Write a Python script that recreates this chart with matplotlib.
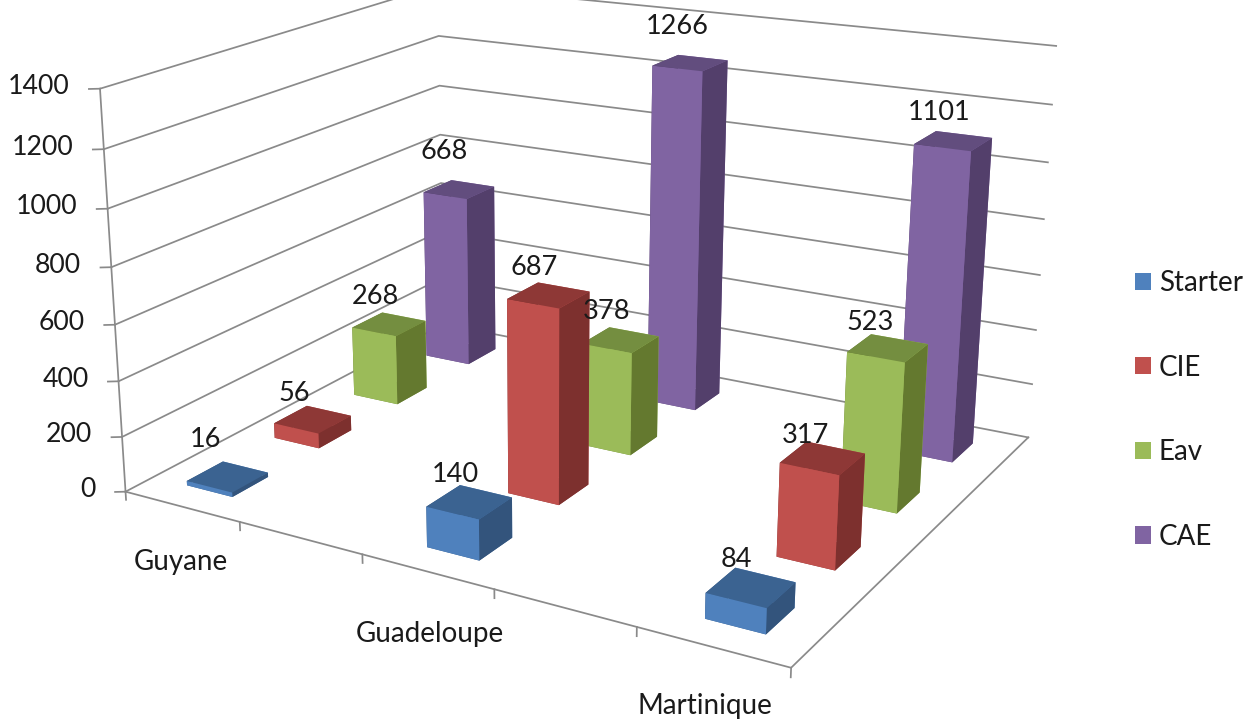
import matplotlib
matplotlib.use("Agg")
import matplotlib.pyplot as plt
from matplotlib.patches import Patch
from mpl_toolkits.mplot3d import proj3d

regions = ["Guyane", "", "Guadeloupe", "", "Martinique"]
series = ["Starter", "CIE", "Eav", "CAE"]
starter = [16, 140, 84]
cie = [56, 687, 317]
eav = [268, 378, 523]
cae = [668, 1266, 1101]
z_ticks = [0, 200, 400, 600, 800, 1000, 1200, 1400]

front = ["#4F81BD", "#C0504D", "#9BBB59", "#8064A2"]
top = ["#3B6391", "#8E3836", "#748E40", "#624D7E"]
side = ["#33547C", "#7D302E", "#64792F", "#533F6B"]
grid_color = "#8A8A8A"
text_color = "#1A1A1A"

plt.rcParams["font.family"] = ["Lato", "DejaVu Sans"]
fig = plt.figure(figsize=(12.47, 7.19), dpi=100)

# square 3d axes, larger than the figure so the camera can aim off-centre
ax = fig.add_axes([-1212.67 / 1247, -1160.47 / 719, 3098.63 / 1247, 3098.63 / 719],
                  projection="3d", computed_zorder=False)
ax.view_init(18.0722, -55.6074, 1.41664)
ax.set_proj_type("persp", focal_length=0.134154)
ax.set_xlim(0.311916 - 8, 0.311916 + 8, view_margin=0)
ax.set_ylim(2.64019 - 8, 2.64019 + 8, view_margin=0)
ax.set_zlim(374.384 - 2200, 374.384 + 2200, view_margin=0)
ax.set_box_aspect((1.0357 * 16, 1.06988 * 16, 0.0021249 * 4400))
ax.set_axis_off()
M = ax.get_proj()

# walls, floor edges and tick marks
line_style = dict(color=grid_color, lw=1.25, zorder=1)
for z in z_ticks:
    ax.plot([0, 0, 5], [0, 4, 4], [z, z, z], **line_style)
    ax.plot([-0.06, 0], [-0.04, 0], [z, z], **line_style)
ax.plot([0, 0], [0, 0], [0, 1400], **line_style)
ax.plot([0, 5, 5], [0, 0, 4], [0, 0, 0], **line_style)
for x in range(len(regions) + 1):
    ax.plot([x, x], [0, 0], [0, -30], **line_style)

values = [starter, cie, eav, cae]
positions = [i for i, name in enumerate(regions) if name]
gap = 0.30

# back to front, each bar its own collection so the paint order is fixed
order = 2
for si in range(len(series) - 1, -1, -1):
    for ci, xpos in enumerate(positions):
        cols = [top[si], top[si], front[si], front[si], side[si], side[si]]
        ax.bar3d(xpos + gap, si + gap, 0, 1 - 2 * gap, 1 - 2 * gap, values[si][ci],
                 color=cols, shade=False, linewidth=0, zorder=order)
        order += 1


def label(x, y, z, text, dx, dy, size, ha="center"):
    xp, yp, _ = proj3d.proj_transform(x, y, z, M)
    ax.annotate(text, (xp, yp), xytext=(dx, dy), textcoords="offset pixels", ha=ha, va="center",
                fontsize=size, color=text_color, annotation_clip=False, zorder=100)


nudges = {16: (-8, 9), 56: (-4, -2), 668: (-1, 10), 1266: (1, 8), 317: (-3, -5), 523: (-4, -2)}
for si in range(len(series)):
    for ci, xpos in enumerate(positions):
        v = values[si][ci]
        nudge_x, nudge_y = nudges.get(v, (0, 0))
        label(xpos + 0.5, si + 0.5, v, str(v), -14 + nudge_x, 28 + nudge_y, 19.5)

for z in z_ticks:
    label(0, 0, z, str(z), -30, 2, 19.2, ha="right")

cat_offsets = {"Guyane": (-1, -55), "Guadeloupe": (3, -63), "Martinique": (-7, -59)}
for x, name in enumerate(regions):
    if name:
        label(x + 0.5, 0, 0, name, cat_offsets[name][0], cat_offsets[name][1], 20)

handles = [Patch(facecolor=c, edgecolor="none") for c in front]
fig.legend(handles, series, loc="upper left", bbox_to_anchor=(1135 / 1247, 1 - 270 / 719), frameon=False,
           borderpad=0, borderaxespad=0, handlelength=0.58, handleheight=0.58, handletextpad=0.27,
           labelspacing=2.11, labelcolor=text_color, fontsize=20)

fig.savefig("out.png", dpi=100)
